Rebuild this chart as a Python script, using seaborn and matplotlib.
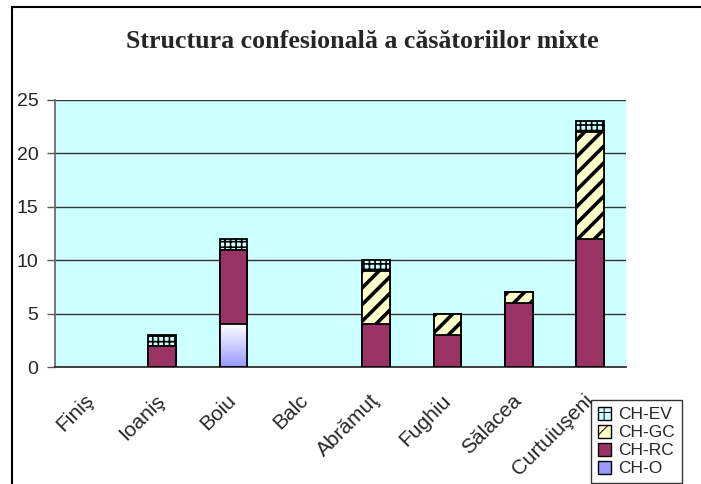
import numpy as np
import pandas as pd
import matplotlib
matplotlib.use("Agg")
import matplotlib.pyplot as plt
import matplotlib.transforms as mtransforms
import seaborn as sns
from matplotlib.patches import Rectangle, Patch

# ---- data ----
categories = ["Finiş", "Ioaniş", "Boiu", "Balc", "Abrămuţ", "Fughiu", "Sălacea", "Curtuiuşeni"]
ch_o = [0, 0, 4, 0, 0, 0, 0, 0]
ch_rc = [0, 2, 7, 0, 4, 3, 6, 12]
ch_gc = [0, 0, 0, 0, 5, 2, 1, 10]
ch_ev = [0, 1, 1, 0, 1, 0, 0, 1]
y_ticks = [0, 5, 10, 15, 20, 25]
title = "Structura confesională a căsătoriilor mixte"

# stacking order bottom -> top
df = pd.DataFrame({"Localitate": categories, "CH-O": ch_o, "CH-RC": ch_rc,
                   "CH-GC": ch_gc, "CH-EV": ch_ev})
stack = ["CH-O", "CH-RC", "CH-GC", "CH-EV"]
cum = df[stack].cumsum(axis=1).replace(0, np.nan)  # empty columns get no bar
cum["Localitate"] = df["Localitate"]

styles = {
    "CH-EV": dict(color="#CCFFFF", hatch="+++", hlw=1.2),
    "CH-GC": dict(color="#FFFFCC", hatch="//", hlw=2.6),
    "CH-RC": dict(color="#993366", hatch=None, hlw=1.0),
    "CH-O": dict(color="#9999FF", hatch=None, hlw=1.0),
}

sns.set_theme(style="white")
plt.rcParams["font.family"] = ["Liberation Sans", "DejaVu Sans"]

fig = plt.figure(figsize=(7.01, 4.84), dpi=100)
ax = fig.add_axes([55 / 701, 1 - 367 / 484, (626 - 55) / 701, (367 - 100) / 484])
ax.set_facecolor("#CCFFFF")

# draw cumulative totals tallest first so lower segments sit on top
for i, name in enumerate(reversed(stack)):
    st = styles[name]
    plt.rcParams["hatch.linewidth"] = st["hlw"]
    kw = {}
    if st["hatch"]:
        kw["hatch"] = st["hatch"]
    sns.barplot(data=cum, x="Localitate", y=name, order=categories, color=st["color"],
                saturation=1, width=0.39, edgecolor="black", linewidth=1.3, ax=ax,
                zorder=3 + i, **kw)

# gradient fill for CH-O (white top -> lavender bottom)
grad = np.linspace(0, 1, 256).reshape(-1, 1)
cmap = matplotlib.colors.LinearSegmentedColormap.from_list("o", ["#FFFFFF", "#9999FF"])
for bar in ax.containers[-1]:
    h = bar.get_height()
    if np.isfinite(h) and h > 0:
        x0 = bar.get_x()
        im = ax.imshow(grad, cmap=cmap, aspect="auto", zorder=bar.get_zorder() + 0.1,
                       extent=[x0, x0 + bar.get_width(), bar.get_y(), bar.get_y() + h],
                       origin="upper")
        im.set_clip_path(bar)
        ax.add_patch(Rectangle((x0, bar.get_y()), bar.get_width(), h, fill=False,
                               edgecolor="black", lw=1.3, zorder=bar.get_zorder() + 0.2))

ax.set_xlim(-0.5, len(categories) - 0.5)
ax.set_ylim(0, 25)
ax.set_yticks(y_ticks)
ax.set_yticklabels([str(v) for v in y_ticks], fontsize=14)
ax.set_xticks(range(len(categories)))
ax.set_xticklabels(categories, fontsize=15, rotation=45, ha="right", va="center",
                   rotation_mode="anchor")
shift = mtransforms.ScaledTranslation(-9 / 100, 0, fig.dpi_scale_trans)
for lab in ax.get_xticklabels():
    lab.set_transform(lab.get_transform() + shift)
ax.set_xticks(np.arange(-0.5, len(categories), 1), minor=True)
ax.tick_params(axis="x", which="major", length=0, pad=22)
ax.tick_params(axis="x", which="minor", length=6, width=1.2, color="#333333", direction="out")
ax.tick_params(axis="y", length=6, width=1.0, color="#555555", direction="out", pad=6, left=True)
ax.set_xlabel("")
ax.set_ylabel("")
ax.yaxis.grid(True, color="#333333", lw=1.0, zorder=1)
ax.set_axisbelow(True)
for s in ["top", "right"]:
    ax.spines[s].set_visible(False)
ax.spines["left"].set_color("#666666")
ax.spines["bottom"].set_color("#222222")
ax.spines["bottom"].set_linewidth(1.2)

# title
fig.text(362 / 701, 1 - 42 / 484, title, ha="center", va="center", fontsize=18.6,
         fontweight="bold", family=["Liberation Serif", "DejaVu Serif"])

# legend (top to bottom: EV, GC, RC, O)
handles = []
for name in reversed(stack):
    st = styles[name]
    plt.rcParams["hatch.linewidth"] = st["hlw"] * 0.7
    handles.append(Patch(facecolor=st["color"], edgecolor="black",
                         hatch=st["hatch"].replace("+++", "++") if st["hatch"] else None,
                         label=name, lw=1.0))
leg = fig.legend(handles=handles, loc="upper left", bbox_to_anchor=(591 / 701, 1 - 400 / 484),
                 frameon=True, fancybox=False, edgecolor="black", fontsize=12.5,
                 handlelength=0.75, handleheight=0.75, handletextpad=0.4,
                 borderpad=0.4, labelspacing=0.15, borderaxespad=0)
leg.get_frame().set_linewidth(1.0)

# outer chart frame (right/bottom edges fall outside the picture)
fig.add_artist(Rectangle((12 / 701, -0.2), 1.2, 1.2 - 7 / 484, fill=False,
                         edgecolor="black", lw=1.5, transform=fig.transFigure))

fig.savefig("out.png", dpi=100)
